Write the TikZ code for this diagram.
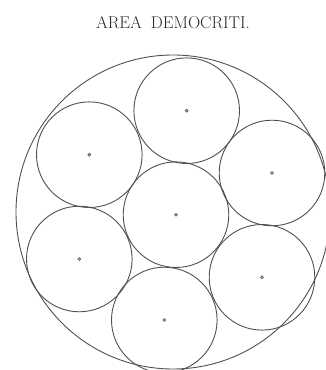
\documentclass[tikz,border=0pt]{standalone}
\usepackage{fontspec}
\usepackage{tikz}
\usetikzlibrary{shapes.geometric, positioning}
\definecolor{inkgray}{RGB}{80, 80, 80}
\definecolor{titlegray}{RGB}{40, 40, 40}

\begin{document}
\begin{tikzpicture}[
        x=1pt, y=1pt,
        rim/.style={circle, draw=inkgray, line width=0.9pt, inner sep=0pt, outer sep=0pt, minimum size=314pt},
        cell/.style={circle, draw=inkgray, line width=0.9pt, inner sep=0pt, outer sep=0pt, minimum size=105.6pt},
        hub/.style={draw=inkgray, fill=gray!50, line width=0.6pt},
        heading/.style={text=titlegray, inner sep=0pt, font=\fontsize{17}{19}\selectfont\addfontfeatures{LetterSpace=40}}
    ]
        \useasboundingbox (0,0) rectangle (326,370);
        \clip (0,0) rectangle (326,370);

        % Title
        \node[heading] (title) at (173,347) {AREA\hspace{9pt}DEMOCRITI.};

        % Outer circle
        \node[rim] (area) at (173,158) {};

        % Circles
        \node[cell] (middle) at (176,155.3) {};
        \node[cell] (top) at (186.7,259.3) {};
        \node[cell] (upleft) at (89.3,215.3) {};
        \node[cell] (upright) at (272,197) {};
        \node[cell] (lowleft) at (79.3,111) {};
        \node[cell] (lowright) at (262,92.7) {};
        \node[cell] (bottom) at (164.3,50) {};

        % Centres
        \foreach \c in {middle, top, upleft, upright, lowleft, lowright, bottom}
            \draw[hub] (\c.center) circle (1.5pt);

    \end{tikzpicture}
\end{document}
